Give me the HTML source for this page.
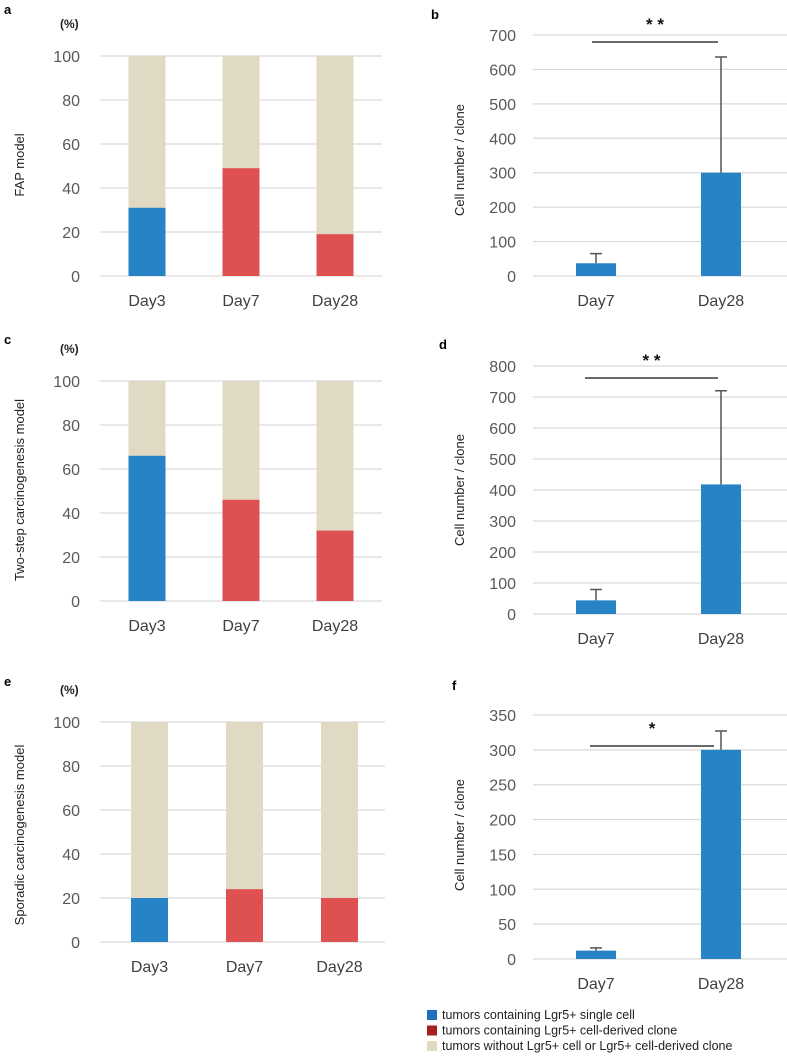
<!DOCTYPE html>
<html><head><meta charset="utf-8"><style>
body{margin:0;background:#fff;}
svg{display:block;font-family:"Liberation Sans",sans-serif;}
</style></head><body>
<svg id="fig" width="787" height="1056"></svg>
<script>
const pctCategories=["Day3","Day7","Day28"];
const aValues=[31,49,19];
const aColors=["blue","red","red"];
const cValues=[66,46,32];
const cColors=["blue","red","red"];
const eValues=[20,24,20];
const eColors=["blue","red","red"];
const pctTicks=[0,20,40,60,80,100];
const cellCategories=["Day7","Day28"];
const bValues=[37,300];const bErrors=[28,336];const bTicks=[0,100,200,300,400,500,600,700];
const dValues=[44,418];const dErrors=[35,302];const dTicks=[0,100,200,300,400,500,600,700,800];
const fValues=[12,300];const fErrors=[4,27];const fTicks=[0,50,100,150,200,250,300,350];

const NS="http://www.w3.org/2000/svg";
const svg=document.getElementById('fig');
const COL={blue:"#2683c6",red:"#df5050",beige:"#e0d9c3"};
function el(tag,attrs,parent,text){const e=document.createElementNS(NS,tag);for(const k in attrs)e.setAttribute(k,attrs[k]);if(text!==undefined)e.textContent=text;(parent||svg).appendChild(e);return e;}

function pctChart(o){
  const g=el('g',{});
  
  
  const y=v=>o.y0-(v/100)*(o.y0-o.y100);
  pctTicks.forEach(t=>{
    const l=el('line',{x1:o.gx0,x2:o.gx1,y1:y(t),y2:y(t),stroke:"#d9d9d9","stroke-width":1.2},g);
    
    const tx=el('text',{x:80,y:y(t)+6,"text-anchor":"end","font-size":16,fill:"#595959"},g,String(t));
    
  });
  const step=(o.gx1-o.gx0)/pctCategories.length;
  pctCategories.forEach((c,i)=>{
    const cx=o.gx0+step*(i+0.5)+o.shift;
    const bg=el('rect',{x:cx-18.5,y:y(100),width:37,height:y(0)-y(100),fill:COL.beige},g);
    
    const b=el('rect',{x:cx-18.5,y:y(o.values[i]),width:37,height:y(0)-y(o.values[i]),fill:COL[o.colors[i]]},g);
    
    const t=el('text',{x:cx,y:o.y0+30,"text-anchor":"middle","font-size":16,fill:"#404040"},g,c);
    
  });
  const p=el('text',{x:60,y:o.y100-28,"font-size":12,"font-weight":"bold",fill:"#222"},g,"(%)");
  
  const yl=el('text',{transform:`translate(24,${o.ylc}) rotate(-90)`,"text-anchor":"middle","font-size":13,fill:"#222"},g,o.ylabel);
  
  const L=el('text',{x:4,y:o.ly,"font-size":13,"font-weight":"bold"},g,o.letter);
  
}

function cellChart(o){
  const g=el('g',{});
  
  
  const max=o.ticks[o.ticks.length-1];
  const y=v=>o.y0-(v/max)*(o.y0-o.ytop);
  o.ticks.forEach(t=>{
    const l=el('line',{x1:533,x2:787,y1:y(t),y2:y(t),stroke:"#d9d9d9","stroke-width":1.2},g);
    
    const tx=el('text',{x:516,y:y(t)+6,"text-anchor":"end","font-size":16,fill:"#595959"},g,String(t));
    
  });
  const centers=[596,721];
  cellCategories.forEach((c,i)=>{
    const cx=centers[i];
    const b=el('rect',{x:cx-20,y:y(o.values[i]),width:40,height:y(0)-y(o.values[i]),fill:COL.blue},g);
    
    const top=y(o.values[i]+o.errors[i]);
    const e=el('path',{d:`M${cx},${y(o.values[i])}V${top}M${cx-6},${top}H${cx+6}`,stroke:"#555","stroke-width":1.5,fill:"none"},g);
    
    const t=el('text',{x:cx,y:o.y0+30,"text-anchor":"middle","font-size":16,fill:"#404040"},g,c);
    
  });
  const s=el('line',{x1:o.sx0,x2:o.sx1,y1:o.sy,y2:o.sy,stroke:"#111","stroke-width":1.3},g);
  
  const st=el('text',{x:(o.sx0+o.sx1)/2,y:o.sy-12,"text-anchor":"middle","font-size":17,"font-weight":"bold",fill:"#111"},g,o.stars);
  
  const yl=el('text',{transform:`translate(464,${o.ylc}) rotate(-90)`,"text-anchor":"middle","font-size":13,fill:"#222"},g,"Cell number / clone");
  
  const L=el('text',{x:o.lx,y:o.ly,"font-size":13,"font-weight":"bold"},g,o.letter);
  
}

pctChart({name:'chart-a-fap',values:aValues,colors:aColors,y0:276,y100:56,gx0:100,gx1:382,shift:0,ylabel:"FAP model",ylc:165,letter:"a",ly:14});
pctChart({name:'chart-c-two-step',values:cValues,colors:cColors,y0:601,y100:381,gx0:100,gx1:382,shift:0,ylabel:"Two-step carcinogenesis model",ylc:490,letter:"c",ly:344});
pctChart({name:'chart-e-sporadic',values:eValues,colors:eColors,y0:942,y100:722,gx0:100,gx1:385,shift:2,ylabel:"Sporadic carcinogenesis model",ylc:835,letter:"e",ly:686});
cellChart({name:'chart-b-fap-cells',values:bValues,errors:bErrors,ticks:bTicks,y0:276,ytop:35,sx0:592,sx1:718,sy:42,stars:"* *",ylc:160,letter:"b",lx:431,ly:19});
cellChart({name:'chart-d-two-step-cells',values:dValues,errors:dErrors,ticks:dTicks,y0:614,ytop:366,sx0:585,sx1:718,sy:378,stars:"* *",ylc:490,letter:"d",lx:439,ly:349});
cellChart({name:'chart-f-sporadic-cells',values:fValues,errors:fErrors,ticks:fTicks,y0:959,ytop:715,sx0:590,sx1:714,sy:746,stars:"*",ylc:835,letter:"f",lx:452,ly:690});

const legend=[["tumors containing Lgr5+ single cell","#1f6fc0"],["tumors containing Lgr5+ cell-derived clone","#a3201f"],["tumors without Lgr5+ cell or Lgr5+ cell-derived clone","#e0d9c3"]];
legend.forEach((it,i)=>{
  const g=el('g',{});
  
  
  el('rect',{x:427,y:1010+i*15.5,width:10,height:10,fill:it[1]},g);
  el('text',{x:442,y:1019+i*15.5,"font-size":12.5,fill:"#222"},g,it[0]);
});
</script>
</body></html>
